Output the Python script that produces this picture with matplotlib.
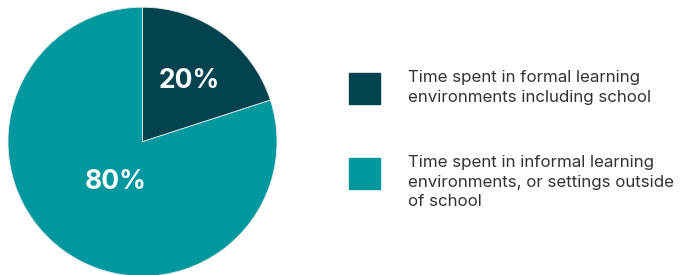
import numpy as np
import matplotlib
matplotlib.use('Agg')
import matplotlib.pyplot as plt
from matplotlib.patches import Rectangle

# Data
labels = ['Time spent in formal learning\nenvironments including school',
          'Time spent in informal learning\nenvironments, or settings outside\nof school']
shares = [20, 80]
colors = ['#03434F', '#00989F']
label_dist = [0.59, 0.34]

W, H = 699, 275
fig = plt.figure(figsize=(W / 100, H / 100), dpi=100)

# Pie axes placed in pixel units
cx, cy, r = 142.5, 141.7, 134.5
ax = fig.add_axes([(cx - r) / W, (H - cy - r) / H, 2 * r / W, 2 * r / H])
wedges, _ = ax.pie(shares, colors=colors, startangle=90, counterclock=False,
                   radius=1, wedgeprops={'linewidth': 0.6, 'edgecolor': '#e8e8e8'})
ax.set_xlim(-1, 1)
ax.set_ylim(-1, 1)
ax.set_aspect('equal')
ax.axis('off')

# Percentage labels at the middle angle of each wedge
for w, s, d in zip(wedges, shares, label_dist):
    ang = np.deg2rad((w.theta1 + w.theta2) / 2)
    ax.text(d * np.cos(ang), d * np.sin(ang), f'{s}%', ha='center', va='center_baseline',
            color='white', fontsize=19, fontweight='bold', family='Inter')

# Legend drawn by hand
legend_tops = [73, 158]
for top, c, lab in zip(legend_tops, colors, labels):
    fig.patches.append(Rectangle((349 / W, (H - top - 31) / H), 31 / W, 31 / H,
                                 transform=fig.transFigure, color=c))
    fig.text(408 / W, (H - top + 3) / H, lab, ha='left', va='top', color='#333333',
             fontsize=12.2, family='Inter', linespacing=1.38)

fig.savefig('out.png', dpi=100)
